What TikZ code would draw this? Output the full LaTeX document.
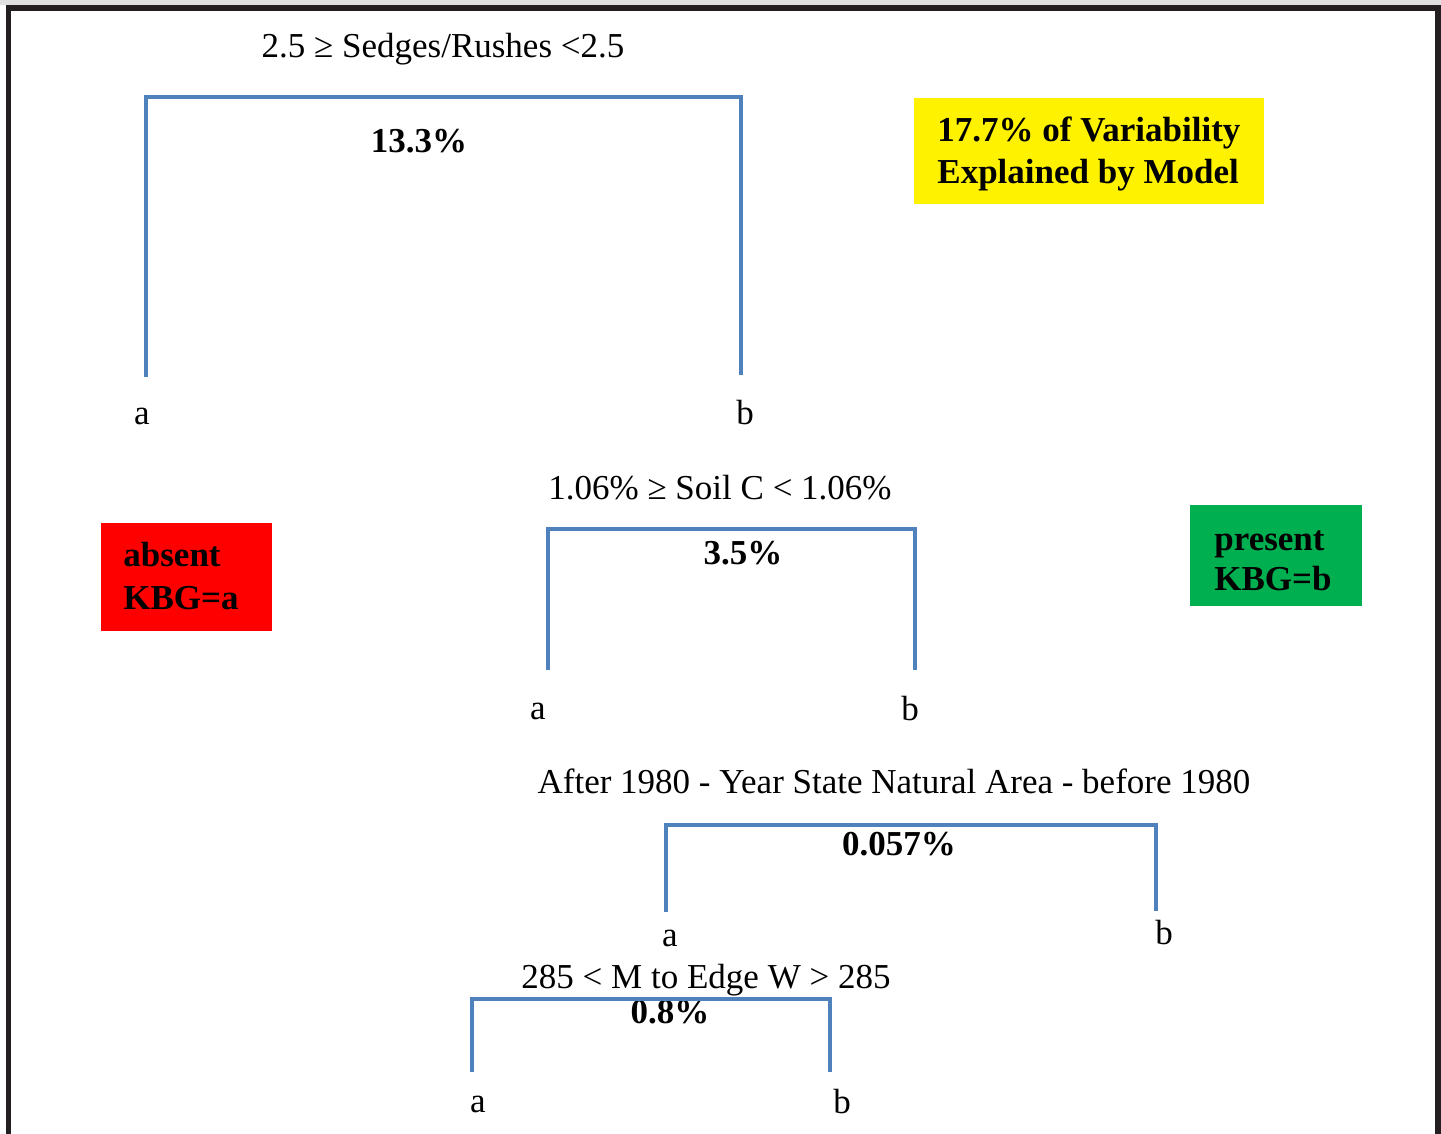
\documentclass[tikz,border=0pt]{standalone}
\usepackage{fontspec}
\setmainfont{Liberation Serif}
\usepackage{xcolor}
\usetikzlibrary{positioning}
\definecolor{splitblue}{HTML}{4F81BD}
\definecolor{framegray}{HTML}{231F20}
\definecolor{keygreen}{HTML}{00B050}
\definecolor{keyred}{HTML}{FF0000}
\tikzset{split/.style={draw=splitblue, line width=1.6pt},
    lbl/.style={font=\fontsize{17.5}{20}\selectfont, anchor=base, inner sep=0pt},
    pct/.style={lbl, font=\fontsize{17.5}{20}\selectfont\bfseries},
    keytext/.style={lbl, anchor=base west, font=\fontsize{17.5}{20}\selectfont\bfseries},
    keybox/.style={anchor=north west, inner sep=0pt, outer sep=0pt}}

\begin{document}
\begin{tikzpicture}[x=0.5pt,y=-0.5pt]
    \useasboundingbox (0,0) rectangle (1441,1134);
    \fill[black!12] (0,0) rectangle (1441,5);
    \draw[framegray, line width=2.75pt] (8.5,1134) -- (8.5,8) -- (1438,8) -- (1438,1134);

    % key boxes
    \node[keybox, fill=yellow, minimum width=175pt, minimum height=53pt] (varbox) at (914,98) {};
    \node[keytext] (var1) at (937,142) {17.7\% of Variability};
    \node[keytext] (var2) at (937,184) {Explained by Model};

    \node[keybox, fill=keyred, minimum width=85.5pt, minimum height=54pt] (absbox) at (101,523) {};
    \node[keytext] (abs1) at (123,566) {absent};
    \node[keytext] (abs2) at (123,609) {KBG=a};

    \node[keybox, fill=keygreen, minimum width=86pt, minimum height=50.5pt] (presbox) at (1190,505) {};
    \node[keytext] (pres1) at (1214,550) {present};
    \node[keytext] (pres2) at (1214,590) {KBG=b};

    % split 1
    \node[lbl] (sedges) at (443,58) {2.5 ≥ Sedges/Rushes <2.5};
    \node[pct] (sedpct) at (419,153) {13.3\%};
    \coordinate (sedtop) at (443,97);
    \coordinate (sedl) at (146,377);
    \coordinate (sedr) at (741,375);
    \draw[split] (sedl) |- (sedtop) -| (sedr);
    \node[lbl] (seda) at (142,424) {a};
    \node[lbl] (sedb) at (745,424) {b};

    % split 2
    \node[lbl] (soil) at (720,499) {1.06\% ≥ Soil C < 1.06\%};
    \node[pct] (soilpct) at (743,564) {3.5\%};
    \coordinate (soiltop) at (731,529);
    \coordinate (soill) at (548,670);
    \coordinate (soilr) at (915,670);
    \draw[split] (soill) |- (soiltop) -| (soilr);
    \node[lbl] (soila) at (538,719) {a};
    \node[lbl] (soilb) at (910,720) {b};

    % split 3
    \node[lbl] (year) at (894,793) {After 1980 - Year State Natural Area - before 1980};
    \node[pct] (yearpct) at (899,855) {0.057\%};
    \coordinate (yeartop) at (911,825);
    \coordinate (yearl) at (666,912);
    \coordinate (yearr) at (1156,911);
    \draw[split] (yearl) |- (yeartop) -| (yearr);
    \node[lbl] (yeara) at (670,946) {a};
    \node[lbl] (yearb) at (1164,944) {b};

    % split 4
    \node[lbl] (edge) at (706,988) {285 < M to Edge W > 285};
    \node[pct, fill=white, inner ysep=1pt] (edgepct) at (670,1023) {0.8\%};
    \coordinate (edgetop) at (651,999);
    \coordinate (edgel) at (472,1072);
    \coordinate (edger) at (830,1072);
    \draw[split] (edgel) |- (edgetop) -| (edger);
    \node[lbl] (edgea) at (478,1112) {a};
    \node[lbl] (edgeb) at (842,1113) {b};
\end{tikzpicture}
\end{document}
